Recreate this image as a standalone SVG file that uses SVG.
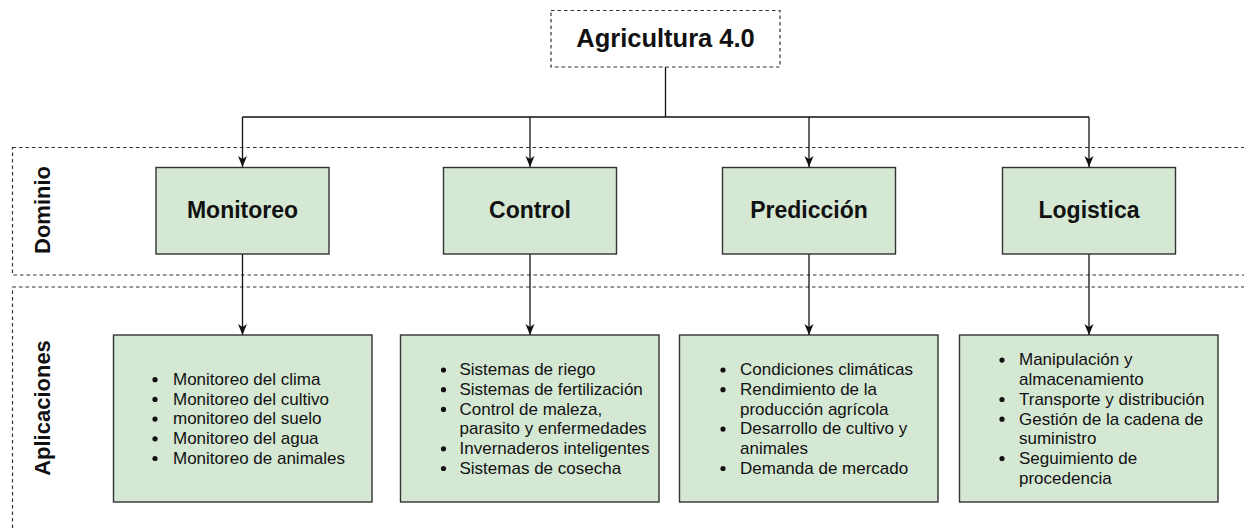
<svg xmlns="http://www.w3.org/2000/svg" width="1244" height="529" viewBox="0 0 1244 529">
<style>
.cont{fill:none;stroke:#333;stroke-width:1.2;stroke-dasharray:3.5 3}
.title{fill:#fff;stroke:#333;stroke-width:1.2;stroke-dasharray:3.5 3}
.box{fill:#d5e8d4;stroke:#333;stroke-width:1.4}
.edge{fill:none;stroke:#111;stroke-width:1.3}
.t{font-family:"Liberation Sans",Arial,Helvetica,sans-serif;fill:#111}
.h{font-weight:bold;font-size:23px;text-anchor:middle}
.side{font-weight:bold;font-size:22px;text-anchor:middle}
.li{font-size:17px}
.dot{fill:#111}
</style>
<defs>
<marker id="arr" viewBox="0 0 12 10" refX="11" refY="5" markerWidth="12" markerHeight="10" markerUnits="userSpaceOnUse" orient="auto">
<path d="M0,0.5 L11,5 L0,9.5 L3,5 Z" fill="#111"/>
</marker>
</defs>
<rect width="1244" height="529" fill="#fff"/>

<g id="container-dominio">
<rect class="cont" x="12.5" y="147.5" width="1245" height="127.5"/>
<text class="t side" transform="translate(50,210) rotate(-90)">Dominio</text>
</g>
<g id="container-aplicaciones">
<rect class="cont" x="12.5" y="287" width="1245" height="260"/>
<text class="t side" transform="translate(50,408) rotate(-90)">Aplicaciones</text>
</g>

<g id="connectors">
<path class="edge" d="M665.5,67 V117"/>
<path class="edge" d="M242.5,117 H1089"/>
<path class="edge" d="M242.5,117 V167" marker-end="url(#arr)"/>
<path class="edge" d="M530,117 V167" marker-end="url(#arr)"/>
<path class="edge" d="M809,117 V167" marker-end="url(#arr)"/>
<path class="edge" d="M1089,117 V167" marker-end="url(#arr)"/>
<path class="edge" d="M242.5,254 V335" marker-end="url(#arr)"/>
<path class="edge" d="M530,254 V335" marker-end="url(#arr)"/>
<path class="edge" d="M809,254 V335" marker-end="url(#arr)"/>
<path class="edge" d="M1089,254 V335" marker-end="url(#arr)"/>
</g>

<g id="node-agricultura">
<rect class="title" x="551" y="10.5" width="229" height="56.5"/>
<text class="t" x="665.5" y="47" font-size="25.5" font-weight="bold" text-anchor="middle">Agricultura 4.0</text>
</g>

<g id="node-monitoreo">
<rect class="box" x="156" y="167.5" width="173" height="86.5"/>
<text class="t h" x="242.5" y="217.5">Monitoreo</text>
</g>
<g id="node-control">
<rect class="box" x="443.5" y="167.5" width="173" height="86.5"/>
<text class="t h" x="530" y="217.5">Control</text>
</g>
<g id="node-prediccion">
<rect class="box" x="722.5" y="167.5" width="173" height="86.5"/>
<text class="t h" x="809" y="217.5">Predicción</text>
</g>
<g id="node-logistica">
<rect class="box" x="1002.5" y="167.5" width="173" height="86.5"/>
<text class="t h" x="1089" y="217.5">Logistica</text>
</g>

<g id="app-monitoreo">
<rect class="box" x="113.5" y="335" width="258.5" height="167"/>
<circle class="dot" cx="155" cy="379.7" r="2.6"/>
<circle class="dot" cx="155" cy="399.4" r="2.6"/>
<circle class="dot" cx="155" cy="419.1" r="2.6"/>
<circle class="dot" cx="155" cy="438.8" r="2.6"/>
<circle class="dot" cx="155" cy="458.5" r="2.6"/>
<text class="t li" x="173" y="385">Monitoreo del clima</text>
<text class="t li" x="173" y="404.7">Monitoreo del cultivo</text>
<text class="t li" x="173" y="424.4">monitoreo del suelo</text>
<text class="t li" x="173" y="444.1">Monitoreo del agua</text>
<text class="t li" x="173" y="463.8">Monitoreo de animales</text>
</g>

<g id="app-control">
<rect class="box" x="400.5" y="335" width="258.5" height="167"/>
<circle class="dot" cx="443.5" cy="370" r="2.6"/>
<circle class="dot" cx="443.5" cy="389.7" r="2.6"/>
<circle class="dot" cx="443.5" cy="409.4" r="2.6"/>
<circle class="dot" cx="443.5" cy="448.8" r="2.6"/>
<circle class="dot" cx="443.5" cy="468.5" r="2.6"/>
<text class="t li" x="459.5" y="375.3">Sistemas de riego</text>
<text class="t li" x="459.5" y="395">Sistemas de fertilización</text>
<text class="t li" x="459.5" y="414.7">Control de maleza,</text>
<text class="t li" x="459.5" y="434.4">parasito y enfermedades</text>
<text class="t li" x="459.5" y="454.1">Invernaderos inteligentes</text>
<text class="t li" x="459.5" y="473.8">Sistemas de cosecha</text>
</g>

<g id="app-prediccion">
<rect class="box" x="679.5" y="335" width="258.5" height="167"/>
<circle class="dot" cx="723" cy="370" r="2.6"/>
<circle class="dot" cx="723" cy="389.7" r="2.6"/>
<circle class="dot" cx="723" cy="429.1" r="2.6"/>
<circle class="dot" cx="723" cy="468.5" r="2.6"/>
<text class="t li" x="740" y="375.3">Condiciones climáticas</text>
<text class="t li" x="740" y="395">Rendimiento de la</text>
<text class="t li" x="740" y="414.7">producción agrícola</text>
<text class="t li" x="740" y="434.4">Desarrollo de cultivo y</text>
<text class="t li" x="740" y="454.1">animales</text>
<text class="t li" x="740" y="473.8">Demanda de mercado</text>
</g>

<g id="app-logistica">
<rect class="box" x="959.5" y="335" width="258.5" height="167"/>
<circle class="dot" cx="1002" cy="360.1" r="2.6"/>
<circle class="dot" cx="1002" cy="399.5" r="2.6"/>
<circle class="dot" cx="1002" cy="419.2" r="2.6"/>
<circle class="dot" cx="1002" cy="458.6" r="2.6"/>
<text class="t li" x="1019" y="365.4">Manipulación y</text>
<text class="t li" x="1019" y="385.1">almacenamiento</text>
<text class="t li" x="1019" y="404.8">Transporte y distribución</text>
<text class="t li" x="1019" y="424.5">Gestión de la cadena de</text>
<text class="t li" x="1019" y="444.2">suministro</text>
<text class="t li" x="1019" y="463.9">Seguimiento de</text>
<text class="t li" x="1019" y="483.6">procedencia</text>
</g>
</svg>
